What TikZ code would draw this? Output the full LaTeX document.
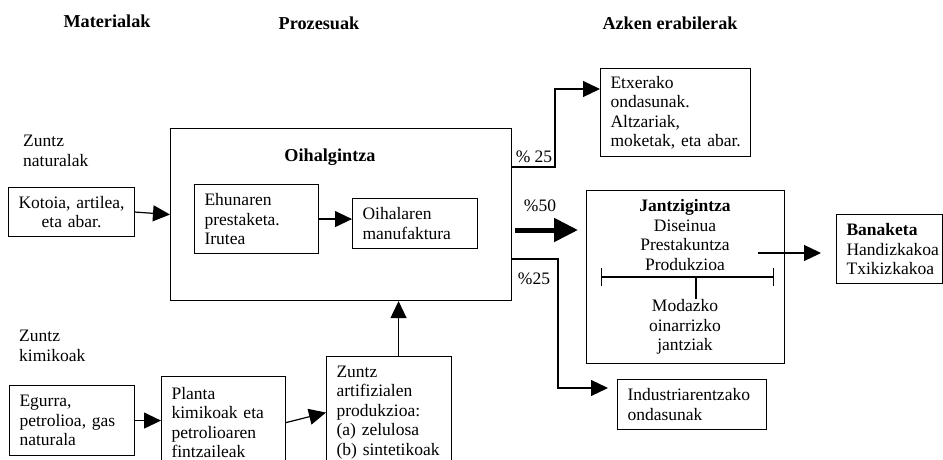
\documentclass[tikz,border=0pt]{standalone}
\usepackage{fontspec}
\setmainfont{Liberation Serif}
\usetikzlibrary{arrows.meta,positioning,calc}
\hyphenpenalty=10000
\exhyphenpenalty=10000

\begin{document}
\begin{tikzpicture}[
  x=1pt, y=-1pt,
  font=\fontsize{17.5}{19.5}\selectfont,
  box/.style={draw, line width=1.1pt, anchor=north west, inner xsep=10pt, inner ysep=4pt, align=left},
  heading/.style={font=\fontsize{18.2}{20}\selectfont\bfseries, inner sep=0pt},
  note/.style={inner sep=0pt, align=left},
  arrow/.style={-{Triangle[length=17pt,width=16pt]}, line width=1.2pt},
  bigarrow/.style={-{Triangle[length=24pt,width=23pt]}, line width=5pt},
  bracket/.style={{Bar[width=18pt]}-{Bar[width=18pt]}, line width=1.2pt}
]
  \clip (0,0) rectangle (943,460);

  % column headings
  \node[heading] (mat) at (107,21) {Materialak};
  \node[heading] (proz) at (319,23) {Prozesuak};
  \node[heading] (azken) at (670,23) {Azken erabilerak};

  % natural fibres
  \node[note, anchor=west] (natur) at (23,151) {Zuntz\\naturalak};
  \node[box, minimum width=126pt, minimum height=49pt, text width=106pt, align=center] (kotoia) at (8,187) {Kotoia,~artilea,\\eta abar.};

  % textile block
  \node[box, minimum width=341pt, minimum height=172pt] (oihal) at (170,128) {};
  \node[heading] (oihaltit) at (330,157) {Oihalgintza};
  \node[box, minimum width=124pt, minimum height=69pt, text width=104pt] (ehun) at (194,184) {Ehunaren\\prestaketa.\\Irutea};
  \node[box, minimum width=125pt, minimum height=50pt, text width=105pt] (manuf) at (352,198) {Oihalaren\\manufaktura};

  % end uses
  \node[box, minimum width=150pt, minimum height=88pt, text width=130pt] (etxe) at (600,68) {Etxerako\\ondasunak.\\Altzariak,\\moketak,~eta~abar.};
  \node[box, minimum width=198pt, minimum height=173pt] (jantzi) at (586,190) {};
  \node[note, align=center] (jantzitxt) at (685,235) {\textbf{Jantzigintza}\\Diseinua\\Prestakuntza\\Produkzioa};
  \node[note, align=center] (modazko) at (685,327) {Modazko\\oinarrizko\\jantziak};
  \node[box, minimum width=106pt, minimum height=69pt, text width=86pt] (banak) at (836,214) {\textbf{Banaketa}\\Handizkakoa\\Txikizkakoa};
  \node[box, minimum width=149pt, minimum height=50pt, text width=129pt] (indus) at (617,379) {Industriarentzako\\ondasunak};

  % chemical fibres
  \node[note, anchor=west] (kimi) at (19,346) {Zuntz\\kimikoak};
  \node[box, minimum width=125pt, minimum height=70pt, text width=105pt] (egurra) at (9,385) {Egurra,\\petrolioa,~gas\\naturala};
  \node[box, minimum width=124pt, minimum height=92pt, text width=104pt] (planta) at (161,376) {Planta\\kimikoak~eta\\petrolioaren\\fintzaileak};
  \node[box, minimum width=125pt, minimum height=112pt, text width=105pt] (zuntz) at (326,356) {Zuntz\\artifizialen\\produkzioa:\\(a)~zelulosa\\(b)~sintetikoak};

  % shares
  \node[note] (p25a) at (534,157) {\% 25};
  \node[note] (p50) at (540,206) {\%50};
  \node[note] (p25b) at (534,279) {\%25};

  \coordinate (etxeturn) at (555,167);
  \coordinate (etxetop) at (555,89);
  \coordinate (midflow) at (515,230);
  \coordinate (industurn) at (558,259);
  \coordinate (indusbot) at (558,388);
  \coordinate (jout) at (758,253);
  \coordinate (brleft) at (601,277);
  \coordinate (brright) at (774,277);
  \coordinate (brmid) at (696,277);
  \coordinate (zup) at ([xshift=9.5pt]zuntz.north);

  \draw[arrow] (kotoia.east) -- (oihal.west);
  \draw[arrow] (ehun.east) -- (ehun.east -| manuf.west);
  \draw[arrow] (oihal.east |- etxeturn) -- (etxeturn) -- (etxetop) -- (etxetop -| etxe.west);
  \draw[bigarrow, shorten >=8pt] (midflow) -- (midflow -| jantzi.west);
  \draw[arrow, shorten >=9pt] (oihal.east |- industurn) -- (industurn) -- (indusbot) -- (indusbot -| indus.west);
  \draw[arrow, shorten >=15pt] (jout) -- (jout -| banak.west);
  \draw[bracket] (brleft) -- (brright);
  \draw[line width=1.2pt] (brmid) -- (brmid |- modazko.north);
  \draw[arrow] (egurra.east) -- (egurra.east -| planta.west);
  \draw[arrow] (planta.east) -- (zuntz.west);
  \draw[arrow] (zup) -- (zup |- oihal.south);
\end{tikzpicture}
\end{document}
